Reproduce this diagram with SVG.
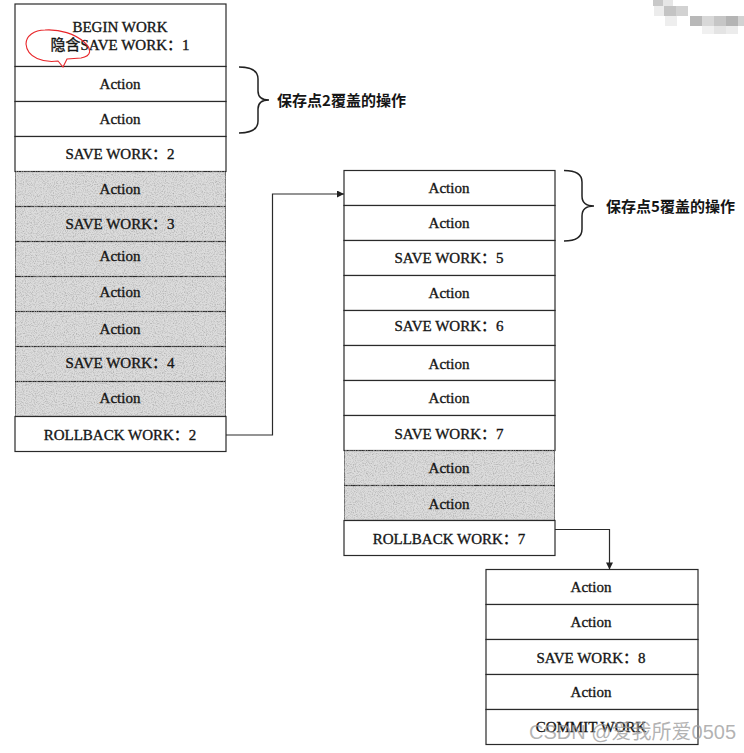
<svg xmlns="http://www.w3.org/2000/svg" width="744" height="753" viewBox="0 0 744 753">
<defs>
<style>
.row{fill:#ffffff;stroke:#2a2a2a;stroke-width:1.2}
.gray{fill:#dcdcdc;stroke:#2a2a2a;stroke-width:1.2;filter:url(#grain)}
.t{font-family:"Liberation Serif","Noto Sans CJK SC",serif;font-size:15px;fill:#151515;stroke:#151515;stroke-width:0.35;text-anchor:middle}
.cn{font-family:"Noto Sans CJK SC",sans-serif;font-size:15px;font-weight:bold;fill:#151515}
.conn{fill:none;stroke:#2a2a2a;stroke-width:1.2}
.brace{fill:none;stroke:#222;stroke-width:1.5}
.wm{font-family:"Liberation Sans","Noto Sans CJK SC",sans-serif;font-size:20px;fill:#9a9a9a;fill-opacity:0.75}
</style>
<filter id="grain" x="0" y="0" width="100%" height="100%">
<feTurbulence type="fractalNoise" baseFrequency="0.9" numOctaves="2" seed="3" result="n"/>
<feColorMatrix in="n" type="matrix" values="0 0 0 0 0.4  0 0 0 0 0.4  0 0 0 0 0.4  0 0 0 -2 1.15" result="g"/>
<feComposite in="g" in2="SourceGraphic" operator="in" result="gi"/>
<feMerge><feMergeNode in="SourceGraphic"/><feMergeNode in="gi"/></feMerge>
</filter>
<marker id="arr" viewBox="0 0 10 10" refX="10" refY="5" markerWidth="9" markerHeight="7" markerUnits="userSpaceOnUse" orient="auto">
<path d="M0 0 L10 5 L0 10 Z" fill="#222"/>
</marker>
</defs>
<rect width="744" height="753" fill="#ffffff"/>
<!-- pixelated blur top right -->
<g id="blur">
<rect x="653" y="0" width="10" height="6" fill="#c8c8c8"/>
<rect x="663" y="0" width="10" height="6" fill="#e6e6e6"/>
<rect x="654" y="6" width="10" height="10" fill="#ececec"/>
<rect x="664" y="6" width="12" height="10" fill="#c4c4c4"/>
<rect x="676" y="6" width="12" height="10" fill="#d2d2d2"/>
<rect x="665" y="16" width="12" height="10" fill="#eeeeee"/>
<rect x="690" y="16" width="12" height="10" fill="#b8b8b8"/>
<rect x="702" y="16" width="12" height="10" fill="#d8d8d8"/>
<rect x="714" y="16" width="12" height="10" fill="#c6c6c6"/>
<rect x="726" y="16" width="12" height="10" fill="#b4b4b4"/>
<rect x="738" y="16" width="6" height="10" fill="#d2d2d2"/>
<rect x="702" y="26" width="12" height="8" fill="#f0f0f0"/>
<rect x="714" y="26" width="12" height="8" fill="#e4e4e4"/>
<rect x="726" y="26" width="12" height="8" fill="#ececec"/>
</g>
<!-- left column -->
<g id="left">
<g id="L0"><rect class="row" x="15" y="4" width="211" height="62.5"/><text class="t" x="120" y="32">BEGIN WORK</text><text class="t" x="120" y="50">隐含SAVE WORK：1</text></g>
<g id="L1"><rect class="row" x="15" y="66.5" width="211" height="35"/><text class="t" x="120" y="89">Action</text></g>
<g id="L2"><rect class="row" x="15" y="101.5" width="211" height="35"/><text class="t" x="120" y="124">Action</text></g>
<g id="L3"><rect class="row" x="15" y="136.5" width="211" height="35"/><text class="t" x="120" y="159">SAVE WORK：2</text></g>
<g id="L4"><rect class="gray" x="15" y="171.5" width="211" height="35"/><text class="t" x="120" y="194">Action</text></g>
<g id="L5"><rect class="gray" x="15" y="206.5" width="211" height="35"/><text class="t" x="120" y="229">SAVE WORK：3</text></g>
<g id="L6"><rect class="gray" x="15" y="241.5" width="211" height="35"/><text class="t" x="120" y="261">Action</text></g>
<g id="L7"><rect class="gray" x="15" y="276.5" width="211" height="35"/><text class="t" x="120" y="297">Action</text></g>
<g id="L8"><rect class="gray" x="15" y="311.5" width="211" height="35"/><text class="t" x="120" y="334">Action</text></g>
<g id="L9"><rect class="gray" x="15" y="346.5" width="211" height="35"/><text class="t" x="120" y="368">SAVE WORK：4</text></g>
<g id="L10"><rect class="gray" x="15" y="381.5" width="211" height="35"/><text class="t" x="120" y="403">Action</text></g>
<g id="L11"><rect class="row" x="15" y="416.5" width="211" height="35"/><text class="t" x="120" y="440">ROLLBACK WORK：2</text></g>
</g>
<!-- red annotation -->
<path d="M26 44 C26 36 34 30 45 30 C60 29 75 34 84 42 C92 49 92 56 81 58 L67 59 L63 67 L58 61 C44 63 27 58 26 44 Z" fill="none" stroke="#e8262a" stroke-width="1.1"/>
<!-- middle column -->
<g id="middle">
<g id="M0"><rect class="row" x="344" y="170.5" width="211" height="35"/><text class="t" x="449" y="193">Action</text></g>
<g id="M1"><rect class="row" x="344" y="205.5" width="211" height="35"/><text class="t" x="449" y="228">Action</text></g>
<g id="M2"><rect class="row" x="344" y="240.5" width="211" height="35"/><text class="t" x="449" y="263">SAVE WORK：5</text></g>
<g id="M3"><rect class="row" x="344" y="275.5" width="211" height="35"/><text class="t" x="449" y="298">Action</text></g>
<g id="M4"><rect class="row" x="344" y="310.5" width="211" height="35"/><text class="t" x="449" y="331">SAVE WORK：6</text></g>
<g id="M5"><rect class="row" x="344" y="345.5" width="211" height="35"/><text class="t" x="449" y="369">Action</text></g>
<g id="M6"><rect class="row" x="344" y="380.5" width="211" height="35"/><text class="t" x="449" y="403">Action</text></g>
<g id="M7"><rect class="row" x="344" y="415.5" width="211" height="35"/><text class="t" x="449" y="439">SAVE WORK：7</text></g>
<g id="M8"><rect class="gray" x="344" y="450.5" width="211" height="35"/><text class="t" x="449" y="473">Action</text></g>
<g id="M9"><rect class="gray" x="344" y="485.5" width="211" height="35"/><text class="t" x="449" y="509">Action</text></g>
<g id="M10"><rect class="row" x="344" y="520.5" width="211" height="35"/><text class="t" x="449" y="544">ROLLBACK WORK：7</text></g>
</g>
<!-- bottom column -->
<g id="bottom">
<g id="B0"><rect class="row" x="486" y="569.5" width="212" height="35"/><text class="t" x="591" y="592">Action</text></g>
<g id="B1"><rect class="row" x="486" y="604.5" width="212" height="35"/><text class="t" x="591" y="627">Action</text></g>
<g id="B2"><rect class="row" x="486" y="639.5" width="212" height="35"/><text class="t" x="591" y="663">SAVE WORK：8</text></g>
<g id="B3"><rect class="row" x="486" y="674.5" width="212" height="35"/><text class="t" x="591" y="697">Action</text></g>
<g id="B4"><rect class="row" x="486" y="709.5" width="212" height="35"/><text class="t" x="591" y="732">COMMIT WORK</text></g>
</g>
<!-- braces -->
<g id="brace2">
<path class="brace" d="M239 67 Q258 67 258 79 L258 91 Q258 100 269 100 Q258 100 258 109 L258 121 Q258 133 239 133"/>
<text class="cn" x="277" y="106" textLength="129" lengthAdjust="spacingAndGlyphs">保存点2覆盖的操作</text>
</g>
<g id="brace5">
<path class="brace" d="M564 170.5 Q582 170.5 582 182 L582 196 Q582 206 594 206 Q582 206 582 216 L582 229 Q582 241 564 241"/>
<text class="cn" x="606" y="212" textLength="129" lengthAdjust="spacingAndGlyphs">保存点5覆盖的操作</text>
</g>
<!-- connectors -->
<g id="connectors">
<path class="conn" d="M226 435 H272.5 V194 H344" marker-end="url(#arr)"/>
<path class="conn" d="M555 529.5 H609.5 V569.5" marker-end="url(#arr)"/>
</g>
<text class="wm" x="529" y="739">CSDN @爱我所爱0505</text>
</svg>
